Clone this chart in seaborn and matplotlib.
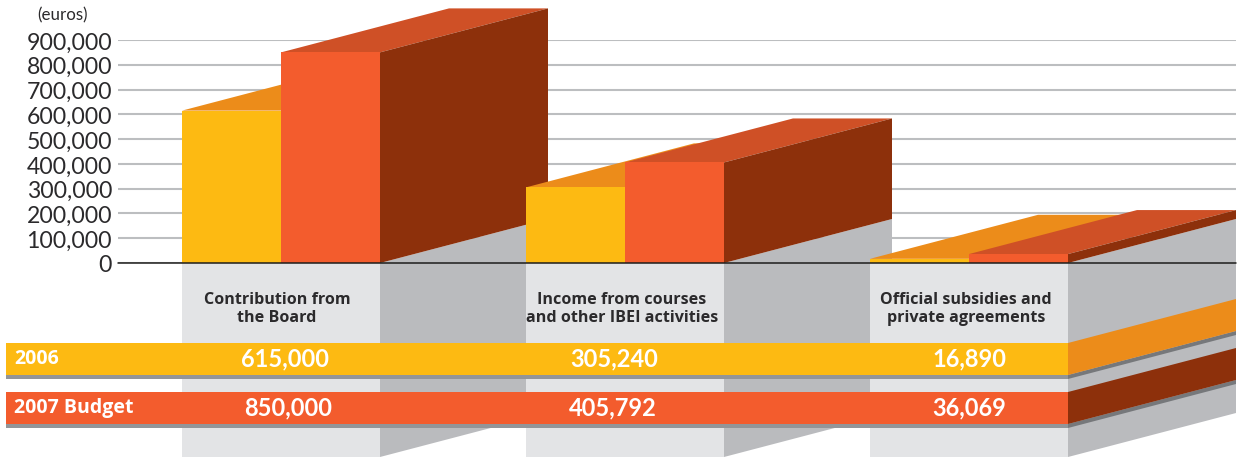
import matplotlib
matplotlib.use("Agg")
import matplotlib.pyplot as plt
from matplotlib.patches import Polygon, Rectangle
from matplotlib.ticker import StrMethodFormatter
from matplotlib.transforms import ScaledTranslation
import pandas as pd
import seaborn as sns

categories = ["Contribution from\nthe Board",
              "Income from courses\nand other IBEI activities",
              "Official subsidies and\nprivate agreements"]
series = ["2006", "2007 Budget"]
values_2006 = [615000, 305240, 16890]
values_2007 = [850000, 405792, 36069]
y_ticks = list(range(0, 1000000, 100000))

YELLOW = "#fdba12"
ORANGE = "#ec8c1a"
RED = "#f35c2d"
RED_TOP = "#cf5026"
BROWN = "#8d300b"
GREY_SIDE = "#babbbe"
GREY_PANEL = "#e3e4e6"
SHADOW = "#939598"
SHADOW_SIDE = "#76787b"
GRID = "#bcbec0"
INK = "#2b2a2c"

W, H = 1249, 457
BASE_Y = 263
STEP = 344          # pixels between categories
DEPTH_X, DEPTH_Y = 168, 44
PX_PER_EURO = 223 / 900000

sns.set_theme(style="white")
plt.rcParams["font.family"] = ["Lato", "DejaVu Sans"]

df = pd.DataFrame({
    "category": categories * 2,
    "series": [series[0]] * 3 + [series[1]] * 3,
    "value": values_2006 + values_2007,
})

fig = plt.figure(figsize=(W / 100, H / 100), dpi=100, facecolor="white")

# full figure axes, only used to place the decoration in pixels
px_ax = fig.add_axes([0, 0, 1, 1])
px_ax.set_xlim(0, W)
px_ax.set_ylim(H, 0)
px_ax.axis("off")
px = px_ax.transData

ax = fig.add_axes([118 / W, (H - BASE_Y) / H, (1236 - 118) / W, 223 / H])
ax.patch.set_visible(False)
sns.barplot(data=df, x="category", y="value", hue="series", order=categories,
            palette=[YELLOW, RED], width=198 / STEP, gap=0, saturation=1,
            linewidth=0, legend=False, ax=ax)
ax.set_xlim((118 - 281) / STEP, (1236 - 281) / STEP)
ax.set_ylim(0, 900000)
ax.set_xlabel("")
ax.set_ylabel("")
ax.set_xticks([])
ax.set_yticks(y_ticks)
ax.yaxis.set_major_formatter(StrMethodFormatter("{x:,.0f}"))
ax.tick_params(axis="y", length=0, pad=4.3, labelsize=16.6, labelcolor=INK)
ax.grid(axis="y", color=GRID, linewidth=1.5)
ax.set_axisbelow(True)
sns.despine(ax=ax, left=True, bottom=True, top=True, right=True)

# tick labels sit a pixel lower in the original
nudge = ScaledTranslation(0, -1 / 100, fig.dpi_scale_trans)
for lab in ax.get_yticklabels():
    lab.set_transform(lab.get_transform() + nudge)

dx = DEPTH_X / STEP
dy = DEPTH_Y / PX_PER_EURO


def face(points, color, z, transform=None):
    ax.add_patch(Polygon(points, closed=True, facecolor=color, edgecolor="none",
                         zorder=z, clip_on=False,
                         transform=transform if transform else ax.transData))


# grey columns running down from the baseline
for i in range(3):
    left = 182 + STEP * i
    right = left + 198
    face([(right, BASE_Y), (right + DEPTH_X, BASE_Y - DEPTH_Y),
          (right + DEPTH_X, H - DEPTH_Y), (right, H)], GREY_SIDE, 2 + i, px)
    ax.add_patch(Rectangle((left, BASE_Y), 198, H - BASE_Y, facecolor=GREY_PANEL,
                           edgecolor="none", zorder=2.5 + i, clip_on=False,
                           transform=px))
    label_x = [277, 622, 966][i]
    ax.text(label_x, 309, categories[i], transform=px, ha="center", va="center",
            fontsize=11.6, fontweight="bold", color=INK, linespacing=1.12, zorder=60,
            fontfamily=["Open Sans", "DejaVu Sans"])

# top and side faces of the bars
for i, (bar_a, bar_b) in enumerate(zip(ax.containers[0], ax.containers[1])):
    for bar, top_color, z in ((bar_a, ORANGE, 10), (bar_b, RED_TOP, 12)):
        x0, x1 = bar.get_x(), bar.get_x() + bar.get_width()
        h = bar.get_height()
        face([(x0, h), (x1, h), (x1 + dx, h + dy), (x0 + dx, h + dy)], top_color, z + 5 * i)
        bar.set_zorder(z + 1 + 5 * i)
    x1 = bar_b.get_x() + bar_b.get_width()
    h = bar_b.get_height()
    face([(x1, 0), (x1 + dx, dy), (x1 + dx, h + dy), (x1, h)], BROWN, 13 + 5 * i)
    bar_b.set_zorder(14 + 5 * i)

ax.axhline(0, color="#1d1d1b", linewidth=1.1, zorder=40, clip_on=False)

# data rows underneath
rows = [(343, YELLOW, ORANGE, series[0], values_2006),
        (392, RED, BROWN, series[1], values_2007)]
text_x = [[285, 614, 969], [288, 613, 969]]
for r, (top, color, side, name, vals) in enumerate(rows):
    bottom = top + 32
    ax.add_patch(Rectangle((6, bottom), 1062, 4, facecolor=SHADOW, edgecolor="none",
                           zorder=50, clip_on=False, transform=px))
    ax.add_patch(Rectangle((6, top), 1062, 32, facecolor=color, edgecolor="none",
                           zorder=51, clip_on=False, transform=px))
    face([(1068, bottom), (1236, bottom - DEPTH_Y), (1236, bottom + 4 - DEPTH_Y),
          (1068, bottom + 4)], SHADOW_SIDE, 50, px)
    face([(1068, top), (1236, top - DEPTH_Y), (1236, bottom - DEPTH_Y),
          (1068, bottom)], side, 51, px)
    ax.text(14, top + 16, name, transform=px, ha="left", va="center", color="white",
            fontsize=14, fontweight="bold", zorder=60,
            fontfamily=["Open Sans", "DejaVu Sans"])
    for j, v in enumerate(vals):
        ax.text(text_x[r][j], top + 16, f"{v:,}", transform=px, ha="center", va="center",
                color="white", fontsize=17, fontweight="bold", zorder=60)

ax.text(63, 15, "(euros)", transform=px, ha="center", va="center", fontsize=12.2,
        color=INK, zorder=60)

fig.savefig("out.png", dpi=100)
